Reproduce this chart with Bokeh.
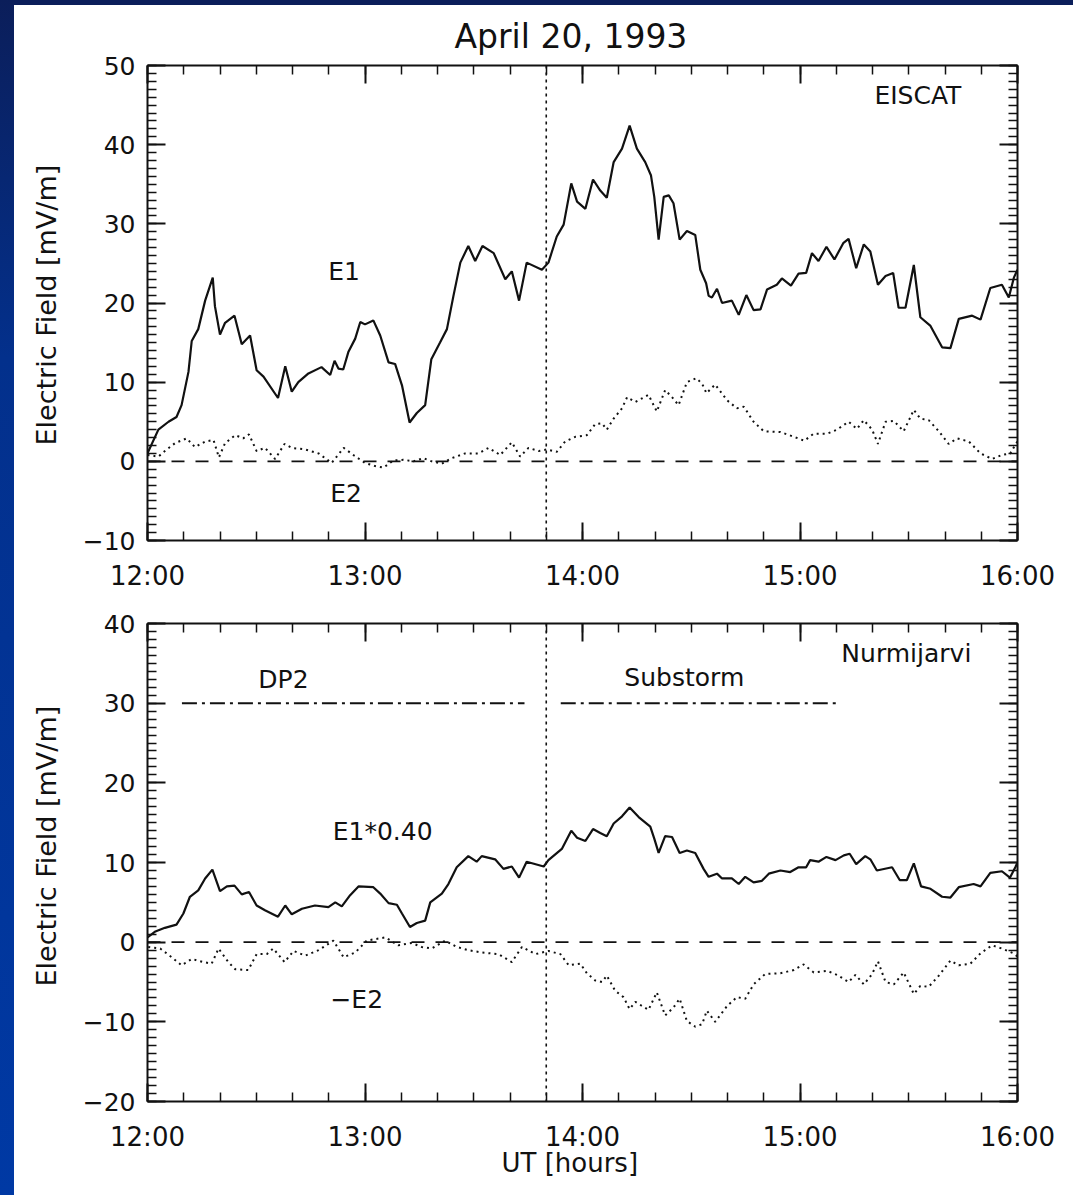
import math
from bokeh.plotting import figure
from bokeh.models import Range1d, FixedTicker, LinearAxis, Label, Span, Div, Title
from bokeh.layouts import column, row
from bokeh.embed import file_html
from bokeh.resources import INLINE

# ---------------- data (minutes after 12:00 UT, mV/m) ----------------
eiscat_e1_min = [0, 3, 5.8, 8, 9.4, 11.3, 12.2, 14, 15.9, 18, 18.6, 20, 21.4, 24, 26, 28.3, 30.1, 32, 36, 38,
                 39.8, 41.6, 44.4, 48, 50.4, 51.6, 52.7, 54, 55.4, 57.3, 58.7, 60, 62.3, 64.2, 66.5, 68.3, 70.2,
                 72.3, 74.3, 76.6, 78.3, 80.7, 82.6, 84.4, 86.3, 88.5, 90.4, 92.4, 95.5, 98.7, 100.5, 102.5, 104.6,
                 108.8, 110.6, 112.9, 114.8, 116.9, 118.5, 120.8, 122.9, 124.9, 126.7, 128.6, 130.9, 133, 135,
                 137.3, 138.9, 139.8, 141, 142.4, 143.8, 145.1, 146.8, 148.8, 151.1, 152.5, 154.1, 154.8, 155.7,
                 157.1, 158.5, 161.2, 163.1, 165.2, 167.2, 169.1, 170.9, 173.6, 175, 177.5, 179.6, 181.7, 183.3,
                 185.1, 187.3, 189.5, 192, 193.4, 195.5, 197.6, 199.4, 201.5, 203.6, 205.7, 207.2, 209.1, 211.4,
                 213.2, 216, 219.2, 221.5, 223.8, 227.5, 229.8, 232.5, 235.7, 237.6, 239, 240]
eiscat_e1 = [1.0, 4.0, 5.0, 5.6, 7.1, 11.3, 15.2, 16.7, 20.3, 23.2, 19.6, 16.0, 17.5, 18.4, 14.8, 15.9, 11.5, 10.7,
             8.0, 12.0, 8.8, 10.0, 11.1, 11.9, 10.9, 12.7, 11.7, 11.6, 13.8, 15.5, 17.6, 17.3, 17.8, 15.9, 12.5,
             12.3, 9.6, 4.9, 6.1, 7.1, 12.9, 15.0, 16.7, 20.9, 25.1, 27.2, 25.3, 27.2, 26.3, 23.0, 24.0, 20.3, 25.1,
             24.2, 25.1, 28.4, 29.9, 35.1, 32.8, 31.9, 35.6, 34.2, 33.3, 37.8, 39.5, 42.4, 39.5, 37.8, 36.1, 33.4,
             28.0, 33.4, 33.6, 32.6, 28.0, 29.1, 28.6, 24.2, 22.5, 20.9, 20.7, 21.8, 20.0, 20.3, 18.5, 21.0, 19.1,
             19.2, 21.7, 22.3, 23.1, 22.2, 23.7, 23.8, 26.3, 25.3, 27.1, 25.5, 27.6, 28.1, 24.4, 27.4, 26.5, 22.3,
             23.4, 23.8, 19.4, 19.4, 24.8, 18.2, 17.1, 14.4, 14.3, 18.0, 18.4, 17.9, 21.9, 22.3, 20.7, 23.2, 24.2]

eiscat_e2_min = [0, 3, 4.8, 7.6, 10.8, 13.1, 15.9, 18.2, 19.7, 21.4, 24.2, 26.4, 28, 30.1, 32.4, 35.2, 37.8, 39.8,
                 43.5, 47.2, 50.8, 54.1, 56.8, 60, 62.8, 65.1, 67.8, 70.6, 73.4, 76.1, 78.4, 81.2, 83.9, 87.6, 91.3,
                 94.1, 97.3, 100.5, 102.8, 105.1, 107.9, 110.2, 112.9, 115.2, 118, 121.2, 123.5, 125.4, 126.7,
                 128.6, 130.9, 132.3, 134.6, 138.2, 140.5, 142.8, 144.7, 146.5, 148.8, 151.4, 153, 154.2, 156.6,
                 159.9, 162.6, 164.5, 167.2, 170, 174.6, 178.3, 181.2, 183.8, 187.5, 190.2, 193.4, 195.7, 197.6,
                 199.9, 201.5, 203.6, 205.9, 208.6, 211.4, 213.2, 215.5, 218.3, 221, 223.3, 226.6, 229.8, 233,
                 235.7, 238, 239.4, 240]
eiscat_e2 = [0.8, 0.6, 1.3, 2.3, 2.9, 1.8, 2.5, 2.7, 0.5, 2.3, 3.3, 2.9, 3.4, 1.3, 1.7, 0.3, 2.2, 1.7, 1.5, 1.0,
             -0.2, 1.7, 0.8, -0.2, -0.6, -0.8, 0.1, 0.2, 0.0, 0.4, 0.0, -0.3, 0.4, 1.0, 1.0, 1.7, 0.8, 2.4, 0.6,
             1.7, 1.3, 1.5, 1.2, 2.5, 3.1, 3.3, 4.7, 4.8, 4.0, 5.4, 6.7, 8.1, 7.5, 8.4, 6.3, 9.0, 8.1, 7.1, 10.0,
             10.5, 9.8, 8.6, 9.7, 7.7, 6.7, 6.9, 5.0, 3.8, 3.7, 3.1, 2.6, 3.5, 3.5, 4.0, 5.0, 4.1, 5.2, 4.0, 2.2,
             5.0, 5.1, 3.8, 6.5, 5.4, 5.2, 3.8, 2.2, 2.9, 2.5, 1.0, 0.3, 0.8, 1.0, 2.1, 2.5]

nurmi_e1_min = [0, 2, 4.8, 8, 9.9, 11.7, 14, 15.9, 17.9, 20, 21.9, 24, 26, 28, 30.1, 32.4, 36, 38, 39.8, 42.6,
                46.2, 49.9, 51.8, 53.6, 55.9, 58.2, 62.3, 64.2, 66.5, 68.8, 70.2, 72.4, 74.3, 76.6, 78, 81.2, 83,
                85.3, 88.5, 90.8, 92.2, 95.9, 98.2, 100.5, 102.5, 104.6, 109.3, 110.6, 114.3, 116.9, 118.5, 120.8,
                122.9, 124.9, 126.7, 128.6, 130.9, 133, 135.5, 138.7, 139.8, 141, 142.8, 144.7, 146.8, 148.8,
                151.1, 153.4, 154.8, 157.1, 158.5, 161.2, 163.1, 164.9, 167.2, 169.5, 171.4, 174.6, 177.3, 179.6,
                181.7, 182.8, 185.1, 187.3, 189.8, 192.1, 193.7, 195.5, 198, 199.4, 201.2, 205.4, 207.5, 209.5,
                211.4, 213.4, 216, 219.2, 221.5, 223.8, 227.9, 229.8, 232.5, 235.7, 237.9, 239.4, 240]
nurmi_e1_scaled = [0.6, 1.3, 1.8, 2.2, 3.6, 5.7, 6.5, 8.0, 9.1, 6.4, 7.0, 7.1, 6.0, 6.3, 4.6, 4.0, 3.2, 4.6, 3.5,
                   4.2, 4.6, 4.4, 5.0, 4.5, 5.9, 7.0, 6.9, 6.1, 4.9, 4.7, 3.6, 1.9, 2.4, 2.7, 5.0, 6.1, 7.3, 9.4,
                   10.8, 10.1, 10.8, 10.4, 9.2, 9.5, 8.1, 10.1, 9.5, 10.3, 11.7, 14.0, 13.1, 12.7, 14.2, 13.7, 13.3,
                   14.9, 15.8, 16.9, 15.7, 14.5, 13.0, 11.2, 13.3, 13.2, 11.2, 11.5, 11.2, 9.2, 8.2, 8.6, 8.0, 8.0,
                   7.3, 8.2, 7.5, 7.7, 8.6, 9.0, 8.8, 9.4, 9.4, 10.3, 10.1, 10.7, 10.3, 10.9, 11.1, 9.8, 10.8, 10.4,
                   9.0, 9.4, 7.8, 7.8, 9.9, 7.0, 6.7, 5.7, 5.6, 6.9, 7.3, 7.0, 8.7, 8.9, 8.1, 9.4, 10.0]

nurmi_e2_min = [0.2, 3.5, 6.7, 9.4, 12.2, 15.4, 17.7, 19.6, 22.3, 24.2, 27.8, 30.1, 32.9, 34.7, 37.8, 40.3, 43.5,
                47.2, 51.3, 54.1, 57.3, 60.5, 65.6, 69.2, 72.9, 75.6, 78.4, 82.1, 85.3, 88.5, 92.2, 96.8, 100.5,
                103.3, 107, 110.6, 113.9, 116.2, 119.4, 121.2, 123.5, 125.4, 126.7, 129, 131.3, 133, 134.6, 138.2,
                140.5, 142.8, 145.1, 146.8, 148.8, 151.1, 153, 154.3, 156.6, 159.9, 162.6, 164.9, 167.2, 170.4,
                174.6, 178.3, 181, 183.8, 187.5, 190.2, 193.4, 195.3, 197.6, 199.9, 201.5, 203.6, 205.9, 208.6,
                211.4, 213.2, 215.5, 218.3, 221.5, 223.8, 227, 229.8, 233, 235.7, 238.9, 240]
nurmi_minus_e2 = [-0.6, -0.8, -1.9, -2.9, -2.1, -2.5, -2.7, -0.8, -2.5, -3.4, -3.5, -1.5, -1.5, -0.8, -2.5, -1.1,
                  -1.7, -1.0, 0.2, -1.9, -1.3, 0.2, 0.6, -0.4, -0.1, -0.6, -0.8, 0.2, -0.6, -1.0, -1.3, -1.5,
                  -2.5, -0.6, -1.5, -1.1, -1.5, -2.9, -2.7, -3.9, -4.8, -5.0, -4.2, -6.1, -6.9, -8.4, -7.5, -8.5,
                  -6.3, -9.2, -8.2, -7.1, -9.9, -10.6, -10.3, -8.6, -10.0, -8.0, -6.9, -7.1, -5.3, -4.0, -3.9,
                  -3.5, -2.8, -3.8, -3.6, -4.1, -5.0, -4.1, -5.3, -4.0, -2.4, -5.0, -5.3, -3.8, -6.5, -5.5, -5.6,
                  -4.2, -2.3, -2.9, -2.7, -1.4, -0.4, -0.8, -1.4, -1.8]

onset_min = 110                      # 13:50 UT
dp2_interval_min = [9.5, 104]        # 12:09 - 13:44
substorm_interval_min = [114, 190]   # 13:54 - 15:10
interval_level = 30

hour_ticks = [12, 13, 14, 15, 16]
hour_labels = ["12:00", "13:00", "14:00", "15:00", "16:00"]
top_yticks = [-10, 0, 10, 20, 30, 40, 50]
bot_yticks = [-20, -10, 0, 10, 20, 30, 40]

# ---------------- styling ----------------
FONT = "DejaVu Sans"
INK = "#111111"


def hrs(mins):
    return [12 + m / 60 for m in mins]


def label(p, x, y, text, size="25px"):
    p.add_layout(Label(x=x, y=y, text=text, text_font=FONT, text_font_size=size, text_color=INK,
                       text_align="center", text_baseline="middle"))


def side_title(p, text, side, size, offset, standoff, valign):
    p.add_layout(Title(text=text, text_font=FONT, text_font_size=size, text_font_style="normal",
                       text_color=INK, align="left", offset=offset, standoff=standoff,
                       vertical_align=valign), side)


def style_axis(ax, show, size, standoff):
    ax.axis_line_width = 2
    ax.axis_line_color = INK
    ax.major_tick_in = 18
    ax.major_tick_out = 0
    ax.minor_tick_in = 9
    ax.minor_tick_out = 0
    ax.major_tick_line_width = 2
    ax.minor_tick_line_width = 1.5
    ax.major_tick_line_color = INK
    ax.minor_tick_line_color = INK
    ax.major_label_text_font = FONT
    ax.major_label_text_color = INK
    if show:
        ax.major_label_text_font_size = size
        ax.major_label_standoff = standoff
    else:
        ax.major_label_text_font_size = "0px"
        ax.major_label_standoff = 0


def make_panel(ylo, yhi, yticks, frame_h, b_top, b_bot):
    p = figure(frame_width=870, frame_height=frame_h, x_range=Range1d(12, 16), y_range=Range1d(ylo, yhi),
               x_axis_type=None, y_axis_type=None, output_backend="svg", toolbar_location=None,
               min_border_left=133, min_border_right=56, min_border_top=b_top, min_border_bottom=b_bot,
               background_fill_color="white", border_fill_color="white", outline_line_color=None)
    xt = FixedTicker(ticks=hour_ticks, minor_ticks=[12 + i / 6 for i in range(25)])
    yt = FixedTicker(ticks=yticks, minor_ticks=list(range(ylo, yhi + 1)))
    ylab = {v: (("\u2212" + str(-v)) if v < 0 else str(v)) for v in yticks}
    bottom = LinearAxis(ticker=xt, major_label_overrides=dict(zip(hour_ticks, hour_labels)))
    style_axis(bottom, True, "26px", 20)
    top = LinearAxis(ticker=xt, major_label_overrides={v: "" for v in hour_ticks})
    style_axis(top, False, "0px", 0)
    left = LinearAxis(ticker=yt, major_label_overrides=ylab)
    style_axis(left, True, "25px", 12)
    right = LinearAxis(ticker=yt, major_label_overrides={v: "" for v in yticks})
    style_axis(right, False, "0px", 0)
    p.add_layout(bottom, "below")
    p.add_layout(top, "above")
    p.add_layout(left, "left")
    p.add_layout(right, "right")
    p.add_layout(Span(location=0, dimension="width", line_color=INK, line_width=1.6, line_dash="13 11"))
    p.add_layout(Span(location=12 + onset_min / 60, dimension="height", line_color=INK, line_width=1.6,
                      line_dash="3 4"))
    return p


# ---------------- top panel: EISCAT ----------------
p1 = make_panel(-10, 50, top_yticks, 475, 60, 60)
p1.line(hrs(eiscat_e1_min), eiscat_e1, line_color=INK, line_width=2.2)
p1.line(hrs(eiscat_e2_min), eiscat_e2, line_color=INK, line_width=2, line_dash="2 4")
label(p1, 12.904, 23.97, "E1")
label(p1, 12.913, -4.1, "E2")
label(p1, 15.542, 46.15, "EISCAT")
side_title(p1, "April 20, 1993", "above", "33px", 307, 16, "top")
side_title(p1, "Electric Field [mV/m]", "left", "27px", 95, 31, "top")

# ---------------- bottom panel: Nurmijarvi ----------------
p2 = make_panel(-20, 40, bot_yticks, 478, 23, 94)
p2.line(hrs(nurmi_e1_min), nurmi_e1_scaled, line_color=INK, line_width=2.2)
p2.line(hrs(nurmi_e2_min), nurmi_minus_e2, line_color=INK, line_width=2, line_dash="2 4")
p2.line(hrs(dp2_interval_min), [interval_level] * 2, line_color=INK, line_width=2, line_dash="15 5 3 5")
p2.line(hrs(substorm_interval_min), [interval_level] * 2, line_color=INK, line_width=2, line_dash="15 5 3 5")
label(p2, 15.489, 36.19, "Nurmijarvi")
label(p2, 12.625, 33.03, "DP2")
label(p2, 14.468, 33.16, "Substorm")
label(p2, 13.081, 13.92, "E1*0.40")
label(p2, 12.962, -7.14, "\u2212E2")
side_title(p2, "Electric Field [mV/m]", "left", "27px", 115, 31, "top")
side_title(p2, "UT [hours]", "below", "26px", 354, -14, "top")

# ---------------- page frame ----------------
left_strip = Div(text="", width=14, height=1195, margin=0,
                 styles={"background": "linear-gradient(180deg, #0b1e5a 0%, #03308c 30%, #0039a4 100%)"})
top_strip = Div(text="", width=1059, height=5, margin=0, styles={"background": "#0b1e5a"})
page = row(left_strip, column(top_strip, p1, p2, spacing=0), spacing=0)

open("out.html", "w").write(file_html(page, INLINE, title="April 20, 1993"))
